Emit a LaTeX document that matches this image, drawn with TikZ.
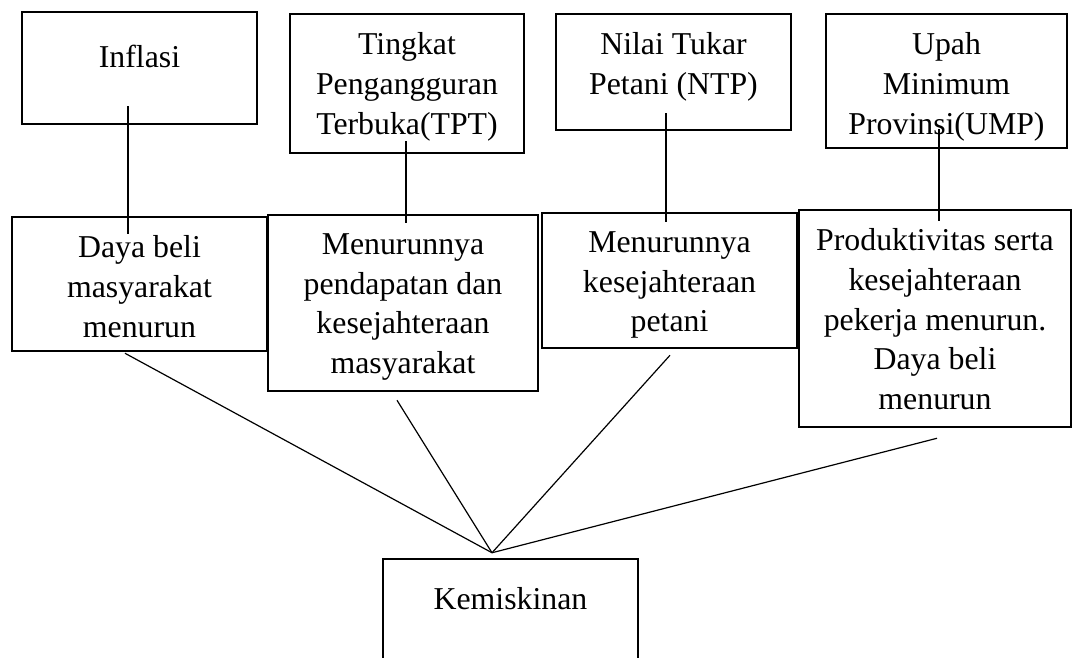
\documentclass[tikz,border=0pt]{standalone}
\usepackage{fontspec}
\setmainfont{Liberation Serif}
\usetikzlibrary{positioning}

\begin{document}
\begin{tikzpicture}[node distance=2cm,on grid,
      box/.style={draw, line width=2.5pt, inner sep=0pt},
      txt/.style={anchor=north, inner sep=0pt, align=center,
                  font=\fontsize{31.8pt}{39.6pt}\selectfont},
      link/.style={draw, line width=1.2pt}]
      \useasboundingbox (-139.5pt,68pt) rectangle (933.5pt,-589pt);
      % faktor
      \node[box, minimum width=235pt, minimum height=112pt,
            label={[txt, yshift=-34.5pt]north:Inflasi}] (infl) {};
      \node[box, minimum width=234pt, minimum height=139pt,
            label={[txt, yshift=-19.8pt]north:Tingkat\\Pengangguran\\Terbuka(TPT)}]
            (tpt) [below right = 15.5pt and 267.5pt of infl] {};
      \node[box, minimum width=235pt, minimum height=116pt,
            label={[txt, yshift=-19.8pt]north:Nilai Tukar\\Petani (NTP)}]
            (ntp) [above right = 11.5pt and 266.5pt of tpt] {};
      \node[box, minimum width=241pt, minimum height=134pt,
            label={[txt, yshift=-19.8pt]north:Upah\\Minimum\\Provinsi(UMP)}]
            (ump) [below right = 9pt and 273pt of ntp] {};
      % dampak
      \node[box, minimum width=255pt, minimum height=134pt,
            label={[txt, yshift=-19.8pt]north:Daya beli\\masyarakat\\menurun}]
            (daya) [below = 216pt of infl] {};
      \node[box, minimum width=270pt, minimum height=176pt,
            label={[txt, yshift=-19.8pt]north:Menurunnya\\pendapatan dan\\kesejahteraan\\masyarakat}]
            (pend) [below right = 19pt and 263.5pt of daya] {};
      \node[box, minimum width=255pt, minimum height=135pt,
            label={[txt, yshift=-19.8pt]north:Menurunnya\\kesejahteraan\\petani}]
            (petani) [above right = 22.5pt and 266.5pt of pend] {};
      \node[box, minimum width=272pt, minimum height=217pt,
            label={[txt, yshift=-19.8pt]north:Produktivitas serta\\kesejahteraan\\pekerja menurun.\\Daya beli\\menurun}]
            (prod) [below right = 38pt and 265.5pt of petani] {};
      % hasil
      \node[box, minimum width=255pt, minimum height=130pt,
            label={[txt, yshift=-29.8pt]north:Kemiskinan}]
            (kem) [below right = 321pt and 107.5pt of pend] {};
      \coordinate (apex) at ([xshift=-18.5pt,yshift=5pt]kem.north);

      \path[link] ([xshift=-11.5pt,yshift=19pt]infl.south) -- ([xshift=-11.5pt,yshift=-18pt]daya.north);
      \path[link] ([xshift=-1pt,yshift=13pt]tpt.south) -- ([xshift=3pt,yshift=-9pt]pend.north);
      \path[link] ([xshift=-7.5pt,yshift=18pt]ntp.south) -- ([xshift=-3.5pt,yshift=-10pt]petani.north);
      \path[link] ([xshift=-7.5pt,yshift=20pt]ump.south) -- ([xshift=4pt,yshift=-12pt]prod.north);

      \path[link] ([xshift=-14.5pt,yshift=-1pt]daya.south) -- (apex);
      \path[link] ([xshift=-6pt,yshift=-8pt]pend.south) -- (apex);
      \path[link] ([xshift=0.5pt,yshift=-6pt]petani.south) -- (apex);
      \path[link] ([xshift=2pt,yshift=-10pt]prod.south) -- (apex);
    \end{tikzpicture}
\end{document}
